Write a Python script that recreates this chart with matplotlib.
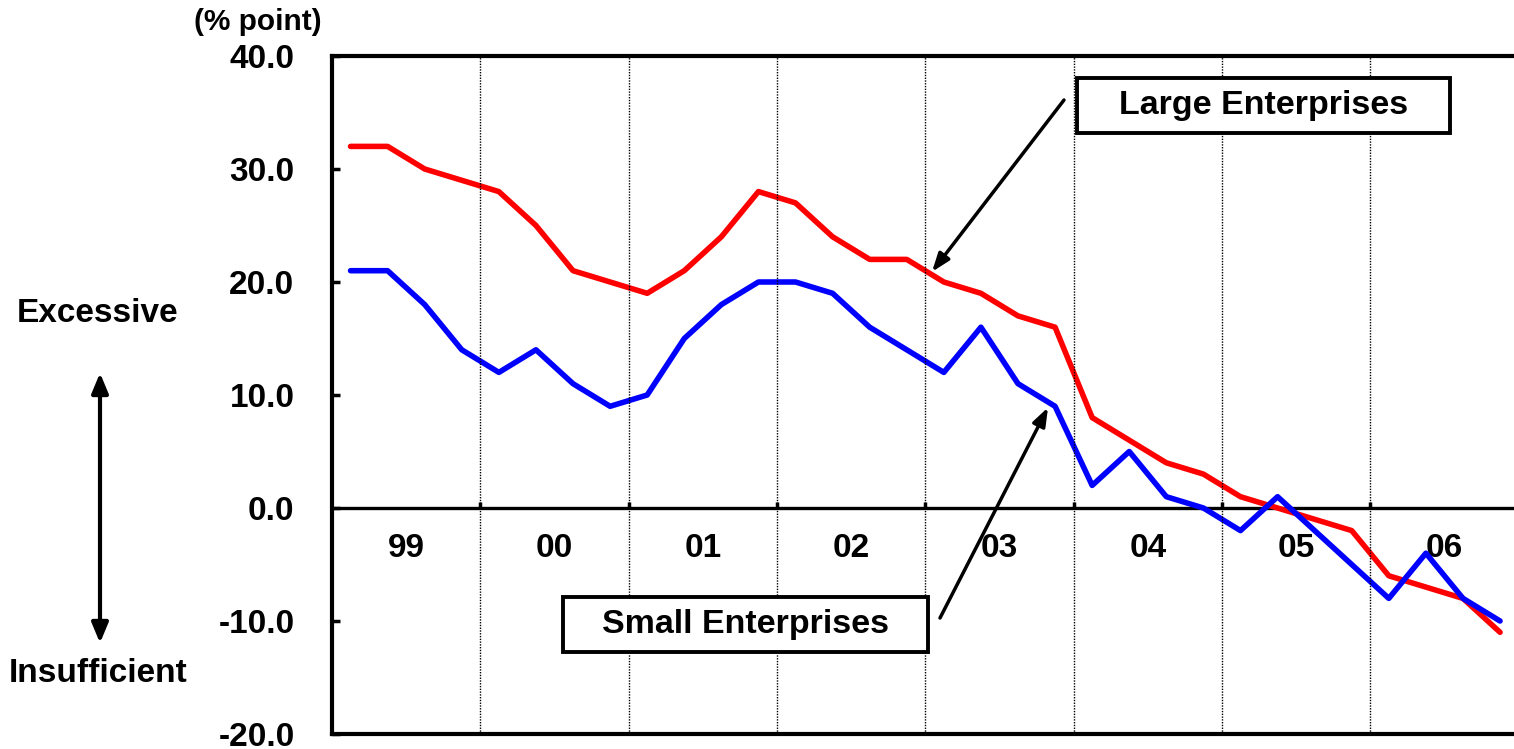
import matplotlib
matplotlib.use("Agg")
import matplotlib.pyplot as plt
from matplotlib.patches import Rectangle, FancyArrowPatch
import numpy as np

plt.rcParams['font.family'] = ['Liberation Sans', 'DejaVu Sans']
plt.rcParams['font.weight'] = 'bold'

years = ['99', '00', '01', '02', '03', '04', '05', '06']
large = [32, 32, 30, 29, 28, 25, 21, 20, 19, 21, 24, 28, 27, 24, 22, 22,
         20, 19, 17, 16, 8, 6, 4, 3, 1, 0, -1, -2, -6, -7, -8, -11]
small = [21, 21, 18, 14, 12, 14, 11, 9, 10, 15, 18, 20, 20, 19, 16, 14,
         12, 16, 11, 9, 2, 5, 1, 0, -2, 1, -2, -5, -8, -4, -8, -10]
yticks = [40, 30, 20, 10, 0, -10, -20]

W, H = 1514, 749
fig = plt.figure(figsize=(W / 100, H / 100), dpi=100)

def fx(px):
    return px / W

def fy(py):
    return 1 - py / H

ax = fig.add_axes([fx(332), fy(734), fx(1518.6) - fx(332), fy(56) - fy(734)])

n = len(large)
x = np.arange(n) + 0.5
ax.set_xlim(0, n)
ax.set_ylim(-20, 40)

ax.plot(x, large, color='#FF0000', lw=4.0, solid_joinstyle='round', solid_capstyle='round', zorder=4)
ax.plot(x, small, color='#0000FF', lw=4.0, solid_joinstyle='round', solid_capstyle='round', zorder=5)

# year boundaries
bounds = np.arange(4, n, 4)
for b in bounds:
    ax.axvline(b, color='black', lw=1.0, ls=(0, (1, 1)), zorder=6)
ax.vlines(bounds, 0, 0.55, color='black', lw=2.5, zorder=3)
ax.axhline(0, color='black', lw=2.4, zorder=3)

for i, yl in enumerate(years):
    ax.text(4 * i + 2, -3.6, yl, ha='center', va='center', fontsize=24, fontweight='bold')

ax.set_xticks([])
ax.set_yticks(yticks)
ax.set_yticklabels([f"{v:.1f}" for v in yticks], fontsize=24, fontweight='bold')
ax.tick_params(axis='y', direction='in', length=6, width=2.5, pad=27)
for s in ['left', 'top', 'bottom', 'right']:
    ax.spines[s].set_linewidth(3)

# unit label
fig.text(fx(258), fy(22), '(% point)', ha='center', va='center', fontsize=21.5, fontweight='bold')

# Excessive / Insufficient
fig.text(fx(98), fy(313), 'Excessive', ha='center', va='center', fontsize=24, fontweight='bold')
fig.text(fx(98), fy(673), 'Insufficient', ha='center', va='center', fontsize=24, fontweight='bold')
fig.patches.append(FancyArrowPatch(
    (fx(100), fy(373)), (fx(100), fy(643)), transform=fig.transFigure,
    arrowstyle='<|-|>,head_length=12,head_width=5', lw=3, color='black', shrinkA=0, shrinkB=0))

# label boxes
for (x0, y0, x1, y1, label) in [(1077, 78, 1450, 133, 'Large Enterprises'),
                                (563, 597, 928, 652, 'Small Enterprises')]:
    rect = Rectangle((fx(x0), fy(y1)), fx(x1) - fx(x0), fy(y0) - fy(y1),
                     transform=fig.transFigure, facecolor='white', edgecolor='black',
                     lw=2.8, zorder=2)
    fig.patches.append(rect)
    fig.text(fx((x0 + x1) / 2), fy((y0 + y1) / 2), label, ha='center', va='center',
             fontsize=24.5, fontweight='bold', zorder=3)

# arrows
for tip, tail in [((16.18, 20.9), (1064, 100)), ((19.31, 8.9), (940, 618))]:
    ax.annotate('', xy=tip, xycoords='data',
                xytext=(fx(tail[0]), fy(tail[1])), textcoords='figure fraction',
                arrowprops=dict(arrowstyle='-|>,head_length=1.1,head_width=0.4', lw=2.5,
                                color='black', shrinkA=0, shrinkB=0), zorder=7)

fig.savefig('out.png', dpi=100)
